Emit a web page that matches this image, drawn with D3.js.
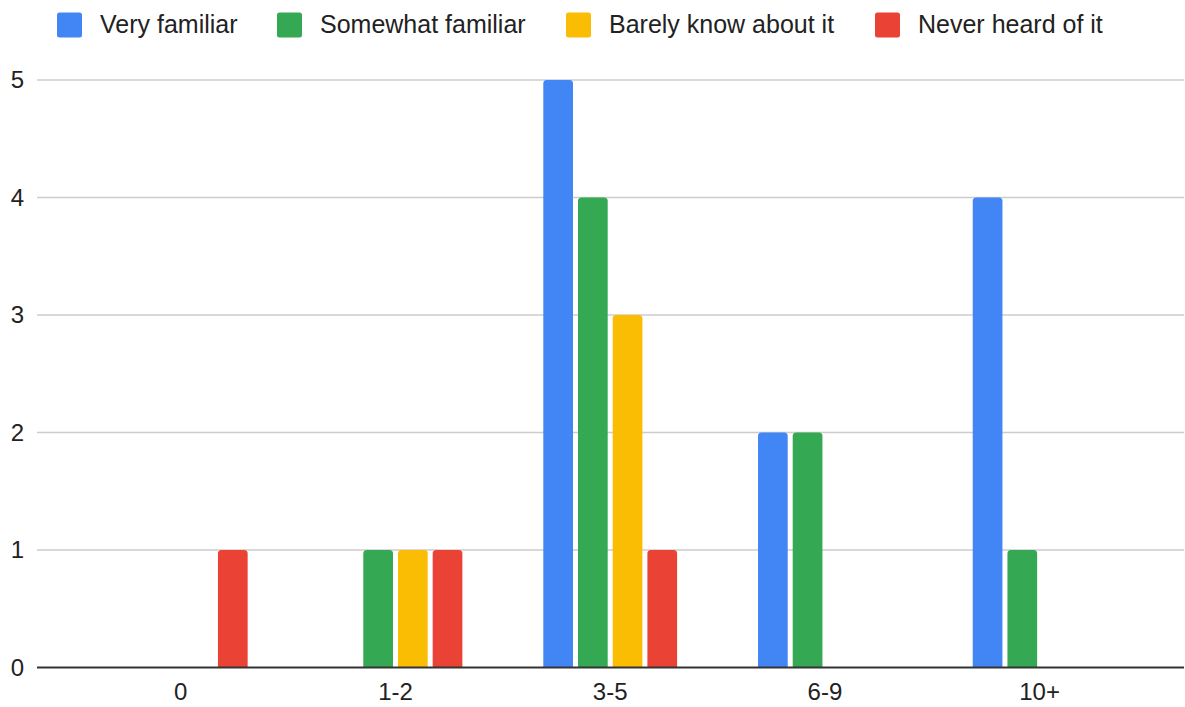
<!DOCTYPE html>
<html>
<head>
<meta charset="utf-8">
<script src="https://cdn.jsdelivr.net/npm/d3@7"></script>
<style>
  html, body { margin: 0; padding: 0; background: #fff; }
  svg { display: block; font-family: "Liberation Sans", Arial, sans-serif; }
</style>
</head>
<body>
<svg id="chart" width="1185" height="707"></svg>
<script>
const categories = ["0", "1-2", "3-5", "6-9", "10+"];
const seriesNames = ["Very familiar", "Somewhat familiar", "Barely know about it", "Never heard of it"];
const veryFamiliar = [0, 0, 5, 2, 4];
const somewhatFamiliar = [0, 1, 4, 2, 1];
const barelyKnow = [0, 1, 3, 0, 0];
const neverHeard = [1, 1, 1, 0, 0];
const yTicks = [0, 1, 2, 3, 4, 5];
const colors = ["#4285F4", "#34A853", "#FBBC04", "#EA4335"];

const seriesValues = [veryFamiliar, somewhatFamiliar, barelyKnow, neverHeard];

const svg = d3.select("#chart");
const gridLeft = 37, gridRight = 1184;
const y = d3.scaleLinear().domain([0, 5]).range([667.5, 80]);
const x0 = d3.scaleBand().domain(categories).range([73.4, 1147]).padding(0);
const groupW = 133.8;
const off = (x0.bandwidth() - groupW) / 2;
const x1 = d3.scaleBand().domain(seriesNames).range([off, off + groupW])
  .paddingInner(0.144).paddingOuter(0);

// gridlines
svg.append("g").selectAll("line").data(yTicks.filter(d => d !== 0)).join("line")
  .attr("x1", gridLeft).attr("x2", gridRight)
  .attr("y1", d => y(d)).attr("y2", d => y(d))
  .attr("stroke", "#cccccc").attr("stroke-width", 1.5);

// y labels
svg.append("g").selectAll("text").data(yTicks).join("text")
  .attr("x", 24).attr("y", d => y(d) + 8)
  .attr("text-anchor", "end")
  .attr("font-size", 24).attr("fill", "#222")
  .text(d => d);

// bars
function topRounded(x, yTop, w, h, r) {
  r = Math.min(r, h, w / 2);
  return `M${x},${yTop + h}V${yTop + r}Q${x},${yTop} ${x + r},${yTop}H${x + w - r}Q${x + w},${yTop} ${x + w},${yTop + r}V${yTop + h}Z`;
}
const barData = [];
categories.forEach((c, ci) => {
  seriesNames.forEach((s, si) => {
    const v = seriesValues[si][ci];
    if (v > 0) barData.push({ c, s, si, v });
  });
});
svg.append("g").selectAll("path").data(barData).join("path")
  .attr("d", d => {
    const bx = x0(d.c) + x1(d.s);
    const top = y(d.v);
    return topRounded(bx, top, x1.bandwidth(), y(0) - top, 3.5);
  })
  .attr("fill", d => colors[d.si]);

// baseline
svg.append("line")
  .attr("x1", gridLeft).attr("x2", gridRight)
  .attr("y1", y(0)).attr("y2", y(0))
  .attr("stroke", "#333333").attr("stroke-width", 2);

// x labels
svg.append("g").selectAll("text").data(categories).join("text")
  .attr("x", d => x0(d) + x0.bandwidth() / 2)
  .attr("y", 700)
  .attr("text-anchor", "middle")
  .attr("font-size", 24).attr("fill", "#222")
  .text(d => d);

// legend (layout positions of each entry)
const legendX = [57, 277, 566, 875];
const legend = svg.append("g");
const items = legend.selectAll("g").data(seriesNames).join("g")
  .attr("transform", (d, i) => `translate(${legendX[i]},0)`);
items.append("rect")
  .attr("width", 25).attr("height", 25).attr("rx", 2.5)
  .attr("y", 12.5)
  .attr("fill", (d, i) => colors[i]);
items.append("text")
  .attr("x", 43).attr("y", 33)
  .attr("font-size", 25).attr("fill", "#222")
  .text(d => d);
</script>
</body>
</html>
